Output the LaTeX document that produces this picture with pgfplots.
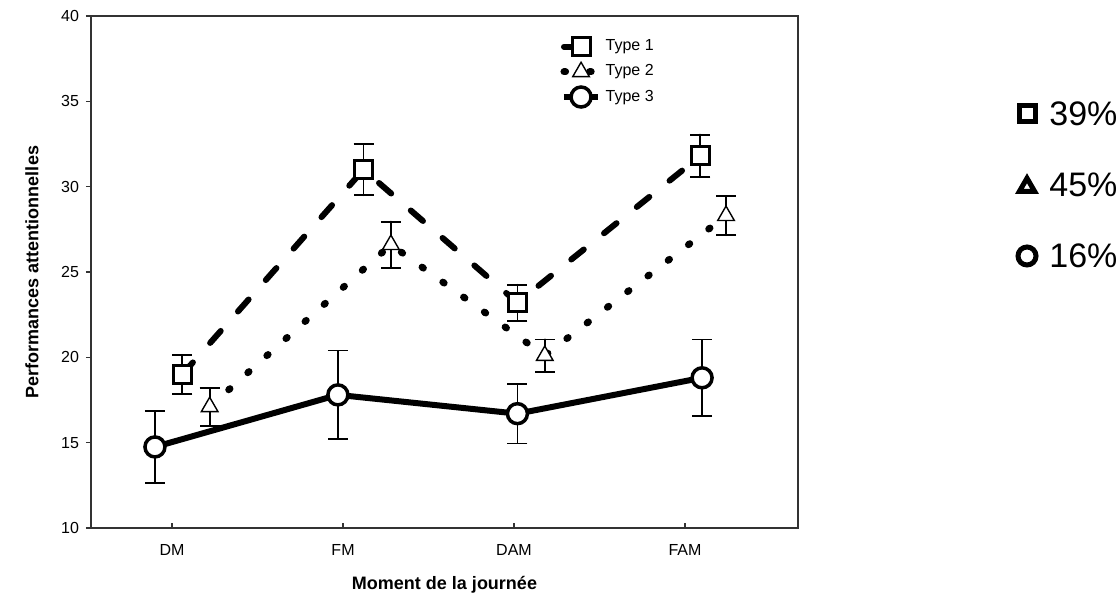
\documentclass[border=0pt]{standalone}
\usepackage{fontspec}
\setmainfont{Liberation Sans}
\usepackage{pgfplots}
\pgfplotsset{compat=1.18}

% one pixel of the reference = 0.5pt
\begin{document}
\begin{tikzpicture}
\useasboundingbox (0,0) rectangle (560pt,300pt);

\begin{axis}[
    at={(45.5pt,36pt)}, anchor=south west,
    scale only axis,
    width=353.5pt, height=256pt,
    xmin=-0.474, xmax=3.661,
    ymin=10, ymax=40,
    xtick={0,1,2,3},
    xticklabels={DM,FM,DAM,FAM},
    ytick={10,15,...,40},
    tick pos=left,
    xtick align=inside,
    ytick align=outside,
    major tick length=2.5pt,
    tick style={black!80, line width=0.6pt},
    axis line style={black!80, line width=0.8pt},
    /pgf/number format/assume math mode=true,
    tick label style={font=\fontsize{8}{9}\selectfont},
    xticklabel style={yshift=-4.5pt},
    xlabel={Moment de la journée},
    ylabel={Performances attentionnelles},
    every axis x label/.style={at={(axis description cs:0.5,-0.111)}, anchor=center, font=\fontsize{9}{10}\selectfont\bfseries},
    every axis y label/.style={at={(axis description cs:-0.0835,0.5)}, rotate=90, anchor=center, font=\fontsize{9}{10}\selectfont\bfseries},
    legend style={at={(axis description cs:0.655,0.97)}, anchor=north west,
        draw=none, fill=none, font=\fontsize{8}{9}\selectfont, row sep=1.5pt},
    legend cell align=left,
    error bars/y dir=both,
    error bars/y explicit,
    error bars/error bar style={line width=0.9pt, black, solid},
    error bars/error mark options={rotate=90, mark size=5pt, line width=0.9pt, black, solid},
]

% Type 1 : squares, dashed
\addplot+[black, line width=3pt, line cap=round, dash pattern=on 8pt off 13pt,
    mark=square*, mark size=4.5pt,
    mark options={solid, fill=white, line width=1.5pt}]
    coordinates {
    (0.06,19.0)  +- (0,1.15)
    (1.12,31.0)  +- (0,1.5)
    (2.02,23.2)  +- (0,1.05)
    (3.09,31.8)  +- (0,1.25)
};
\addlegendentry{Type 1}

% Type 2 : triangles, dotted
\addplot+[black, line width=3.5pt, line cap=round, dash pattern=on 0.8pt off 12pt,
    mark=triangle*, mark size=4.8pt,
    mark options={solid, fill=white, line width=0.7pt}]
    coordinates {
    (0.22,17.1)  +- (0,1.1)
    (1.28,26.6)  +- (0,1.35)
    (2.18,20.1)  +- (0,0.95)
    (3.24,28.3)  +- (0,1.15)
};
\addlegendentry{Type 2}

% Type 3 : circles, solid
\addplot+[black, line width=3pt, solid,
    mark=*, mark size=5pt,
    mark options={solid, fill=white, line width=1.75pt}]
    coordinates {
    (-0.10,14.75) +- (0,2.1)
    (0.97,17.8)   +- (0,2.6)
    (2.02,16.7)   +- (0,1.75)
    (3.10,18.8)   +- (0,2.25)
};
\addlegendentry{Type 3}
\end{axis}

% shares of each type, right of the chart (axis in reference pixels)
\begin{axis}[
    at={(505pt,160pt)}, anchor=south west,
    scale only axis, hide axis, clip=false,
    width=55pt, height=95pt,
    xmin=1010, xmax=1120, ymin=-280, ymax=-90,
]
\addplot[only marks, black, mark=square, mark size=4pt, mark options={line width=2.5pt}]
    coordinates {(1027,-114)};
\addplot[only marks, black, mark=triangle, mark size=4.4pt, mark options={line width=2.5pt}]
    coordinates {(1027,-187)};
\addplot[only marks, black, mark=o, mark size=4.5pt, mark options={line width=2.5pt}]
    coordinates {(1027,-256)};
\node[anchor=west, inner sep=0pt, font=\fontsize{17}{20}\selectfont] at (axis cs:1049,-114) {39\%};
\node[anchor=west, inner sep=0pt, font=\fontsize{17}{20}\selectfont] at (axis cs:1049,-185) {45\%};
\node[anchor=west, inner sep=0pt, font=\fontsize{17}{20}\selectfont] at (axis cs:1049,-256) {16\%};
\end{axis}
\end{tikzpicture}
\end{document}
